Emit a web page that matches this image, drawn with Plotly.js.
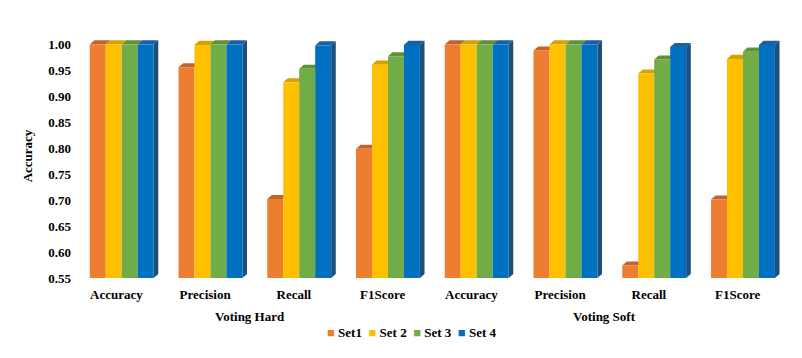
<!DOCTYPE html>
<html>
<head>
<meta charset="utf-8">
<script src="https://cdn.plot.ly/plotly-3.0.1.min.js"></script>
<style>
  body { margin: 0; background: #fff; }
  #grafico { width: 802px; height: 358px; }
</style>
</head>
<body>
<div id="grafico"></div>
<script>
// categorias do eixo x e grupos
const categories = ['Accuracy', 'Precision', 'Recall', 'F1Score', 'Accuracy', 'Precision', 'Recall', 'F1Score'];
const groups = ['Voting Hard', 'Voting Soft'];
const setNames = ['Set1', 'Set 2', 'Set 3', 'Set 4'];

// valores
const set1 = [1.0, 0.956, 0.702, 0.799, 1.0, 0.988, 0.574, 0.701];
const set2 = [1.0, 0.999, 0.927, 0.961, 1.0, 1.0, 0.944, 0.972];
const set3 = [1.0, 1.0, 0.953, 0.977, 1.0, 1.0, 0.971, 0.986];
const set4 = [1.0, 1.0, 0.998, 0.999, 1.0, 1.0, 0.995, 0.999];

const colors = ['#ED7D31', '#FFC000', '#70AD47', '#0070C0'];
const topColors = ['#C4622A', '#D6A200', '#5C9238', '#1B5FA6'];
const sideColor = '#1F4E79';

const series = [set1, set2, set3, set4];
const xs = categories.map((c, i) => i);
const barW = 0.18;
const start = -0.30;
const dx = 0.052, dy = 0.0078; // profundidade 3D
const yMin = 0.55;

const data = series.map((vals, s) => ({
    x: xs,
    y: vals,
    type: 'bar',
    name: setNames[s],
    width: barW,
    offset: start + s * barW,
    marker: { color: colors[s], line: { width: 0 } },
    showlegend: false
}));

// faces de topo e lateral (desenhadas por baixo das barras)
const shapes = [];
series.forEach((vals, s) => {
    vals.forEach((v, i) => {
        const x0 = i + start + s * barW;
        const x1 = x0 + barW;
        shapes.push({
            type: 'path', xref: 'x', yref: 'y', layer: 'below',
            path: `M${x0},${v} L${x1},${v} L${x1 + dx},${v + dy} L${x0 + dx},${v + dy} Z`,
            fillcolor: topColors[s], line: { width: 0 }
        });
        if (s === series.length - 1) {
            shapes.push({
                type: 'path', xref: 'x', yref: 'y', layer: 'below',
                path: `M${x1},${yMin - 0.01} L${x1},${v} L${x1 + dx},${v + dy} L${x1 + dx},${yMin + dy} L${x1},${yMin} Z`,
                fillcolor: sideColor, line: { width: 0 }
            });
        }
    });
});

const font = { family: '"Liberation Serif", "Times New Roman", serif', size: 13, color: '#000', weight: 'bold' };

const annotations = groups.map((g, k) => ({
    text: g, xref: 'x', yref: 'paper', x: 1.5 + k * 4, y: 0,
    yanchor: 'top', yshift: -29, showarrow: false, font: font
}));

// legenda compacta
const legendText = setNames.map((n, s) =>
    `<span style="color:${colors[s]}">■</span> ${n}`).join('  ');
annotations.push({
    text: legendText, xref: 'paper', yref: 'paper', x: 0.479, y: -0.225,
    xanchor: 'center', yanchor: 'middle', showarrow: false, font: font
});

const layout = {
    width: 802,
    height: 358,
    margin: { l: 72, r: 20, t: 34, b: 80 },
    paper_bgcolor: '#ffffff',
    plot_bgcolor: '#ffffff',
    showlegend: false,
    xaxis: {
        range: [-0.5, 7.5],
        tickmode: 'array',
        tickvals: xs,
        ticktext: categories,
        showgrid: false, zeroline: false, showline: false, ticks: '',
        ticklabelstandoff: 7,
        tickfont: font, fixedrange: true
    },
    yaxis: {
        range: [0.55, 1.02],
        tick0: 0.55, dtick: 0.05, tickformat: '.2f',
        showgrid: false, zeroline: false, showline: false, ticks: '',
        tickfont: font,
        title: { text: 'Accuracy', font: font, standoff: 12 },
        fixedrange: true
    },
    shapes: shapes,
    annotations: annotations
};

Plotly.newPlot('grafico', data, layout, { displayModeBar: false, staticPlot: true });
</script>
</body>
</html>
